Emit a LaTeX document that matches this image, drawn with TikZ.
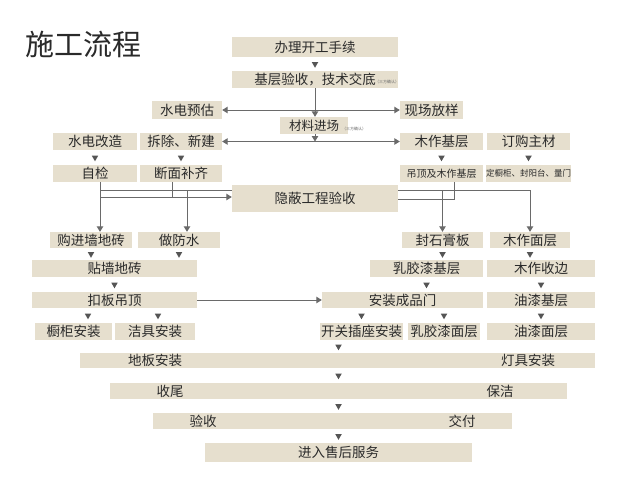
\documentclass[tikz,border=0pt]{standalone}
\usepackage{fontspec}
\setmainfont{Noto Sans CJK SC}
\usetikzlibrary{arrows.meta,shapes.geometric,calc}
\definecolor{boxbg}{HTML}{E6DFCE}
\definecolor{txtc}{HTML}{2A2A2A}
\definecolor{lncol}{HTML}{6A6A6A}
\definecolor{trc}{HTML}{555555}
\newcommand\mkbox[7][]{\node[box,#1,minimum width={#5-#3},minimum height={#6-#4}] (#2) at ({(#3+#5)/2},{(#4+#6)/2}) {#7};}
\newcommand\mytri[3]{\path (#1 |- #2.south) -- (#1 |- #3.north) node[midway,tri]{};}
\begin{document}
\begin{tikzpicture}[x=1pt,y=-1pt,
  box/.style={fill=boxbg, inner sep=0pt, text=txtc, font=\fontsize{13.5}{14}\selectfont},
  lbl/.style={text=txtc, inner sep=0pt, font=\fontsize{13.5}{14}\selectfont},
  note/.style={text=txtc!70, inner sep=0pt, font=\fontsize{4}{4}\selectfont},
  tri/.style={regular polygon, regular polygon sides=3, shape border rotate=180, fill=trc, inner sep=0pt, minimum size=7.5pt},
  lnst/.style={draw=lncol, line width=1pt},
  arr/.style={lnst, -{Triangle[width=6.5pt,length=5.5pt]}},
  arrs/.style={lnst, {Triangle[width=6.5pt,length=5.5pt]}-{Triangle[width=6.5pt,length=5.5pt]}}
]
\useasboundingbox (0,0) rectangle (640,485);
\fill[white] (0,0) rectangle (640,485);

\node[text=txtc, inner sep=0pt, font=\fontsize{29}{30}\selectfont] (title) at (83,44) {施工流程};

\mkbox{kg}{232}{37}{398}{57}{办理开工手续}
\mkbox{jc}{232}{71}{398}{88}{基层验收，技术交底}
\node[note, anchor=south west] (jcn) at (375,84) {（三方确认）};
\mkbox{sd}{152}{101}{222}{119}{水电预估}
\mkbox{xc}{400}{101}{463}{119}{现场放样}
\mkbox[font=\fontsize{12.5}{13}\selectfont]{cl}{280}{117}{348}{134}{材料进场}
\node[note, anchor=south west] (cln) at (342,131) {（三方确认）};
\mkbox{sg}{53}{133}{137}{150}{水电改造}
\mkbox{cc}{140}{133}{222}{150}{拆除、新建}
\mkbox{mj}{400}{133}{483}{150}{木作基层}
\mkbox{dg}{487}{133}{570}{150}{订购主材}
\mkbox{zj}{53}{165}{137}{182}{自检}
\mkbox{dm}{140}{165}{222}{182}{断面补齐}
\mkbox[font=\fontsize{10}{11}\selectfont]{dd}{400}{165}{483}{182}{吊顶及木作基层}
\mkbox[font=\fontsize{8.5}{9}\selectfont]{dc}{487}{165}{570}{182}{定橱柜、封阳台、量门}
\mkbox{yb}{232}{185}{398}{212}{隐蔽工程验收}
\mkbox{gj}{50}{232}{132}{248}{购进墙地砖}
\mkbox{fs}{138}{232}{220}{248}{做防水}
\mkbox{fsg}{402}{232}{483}{248}{封石膏板}
\mkbox{mm}{490}{232}{570}{248}{木作面层}
\mkbox{tq}{32}{260}{197}{277}{贴墙地砖}
\mkbox{rj}{370}{260}{483}{277}{乳胶漆基层}
\mkbox{ms}{487}{260}{595}{277}{木作收边}
\mkbox{kb}{32}{292}{197}{308}{扣板吊顶}
\mkbox{az}{322}{292}{483}{308}{安装成品门}
\mkbox{yq}{487}{292}{595}{308}{油漆基层}
\mkbox{cg}{35}{323}{112}{340}{橱柜安装}
\mkbox{jj}{115}{323}{195}{340}{洁具安装}
\mkbox{kk}{320}{323}{403}{340}{开关插座安装}
\mkbox{rm}{408}{323}{480}{340}{乳胶漆面层}
\mkbox{ym}{487}{323}{595}{340}{油漆面层}
\mkbox{b1}{80}{353}{595}{368}{}
\mkbox{b2}{110}{383}{567}{399}{}
\mkbox{b3}{153}{413}{512}{429}{}
\mkbox{b4}{205}{443}{472}{462}{进入售后服务}
\node[lbl] (l1a) at (155,360.5) {地板安装};
\node[lbl] (l1b) at (528,360.5) {灯具安装};
\node[lbl] (l2a) at (170,391) {收尾};
\node[lbl] (l2b) at (500,391) {保洁};
\node[lbl] (l3a) at (203,421) {验收};
\node[lbl] (l3b) at (462,421) {交付};

% connectors
\draw[arr] (jc.south) -- (jc.south |- cl.north);
\coordinate (j1) at (jc.south |- sd.east);
\draw[arr] (j1) -- (sd.east);
\draw[arr] (j1) -- (xc.west);
\draw[arr] (jc.south |- cl.south) -- (jc.south |- cc.east);
\draw[arrs] (cc.east) -- (mj.west);

\coordinate (ybLin) at ([yshift=1.5]yb.west);
\coordinate (zjx) at ([xshift=5]zj.south);
\coordinate (dmx) at ([xshift=-9]dm.south);
\draw[arr] (zjx) |- (ybLin);
\draw[lnst] (dmx) -- (dmx |- ybLin);
\coordinate (ddx) at ([xshift=13]dd.south);
\draw[lnst] (ddx) |- ([yshift=-0.5]yb.east);

\coordinate (ybL) at ([yshift=8.5]yb.west);
\coordinate (ybR) at ([yshift=8.5]yb.east);
\coordinate (gjx) at ([xshift=9]gj.north);
\coordinate (fsx) at ([xshift=8]fs.north);
\draw[arr] (ybL) -| (gjx);
\draw[arr] (fsx |- ybL) -- (fsx);
\draw[arr] (ybR) -| (mm.north);
\draw[arr] (fsg.north |- ybR) -- (fsg.north);

\draw[arr] (kb.east) -- (az.west);

% small triangles
\mytri{kg.center}{kg}{jc}
\mytri{sg.center}{sg}{zj}
\mytri{cc.center}{cc}{dm}
\mytri{mj.center}{mj}{dd}
\mytri{dg.center}{dg}{dc}
\mytri{gj.center}{gj}{tq}
\mytri{fs.center}{fs}{tq}
\mytri{fsg.center}{fsg}{rj}
\mytri{mm.center}{mm}{ms}
\mytri{tq.center}{tq}{kb}
\mytri{rj.center}{rj}{az}
\mytri{ms.center}{ms}{yq}
\coordinate (cgx) at ([xshift=14.5]cg.center);
\mytri{cgx}{kb}{cg}
\coordinate (jjx) at ([xshift=3]jj.center);
\mytri{jjx}{kb}{jj}
\mytri{kk.center}{az}{kk}
\mytri{rm.center}{az}{rm}
\mytri{ym.center}{yq}{ym}
\mytri{b4.center}{kk}{b1}
\mytri{b4.center}{b1}{b2}
\mytri{b4.center}{b2}{b3}
\mytri{b4.center}{b3}{b4}
\end{tikzpicture}
\end{document}
